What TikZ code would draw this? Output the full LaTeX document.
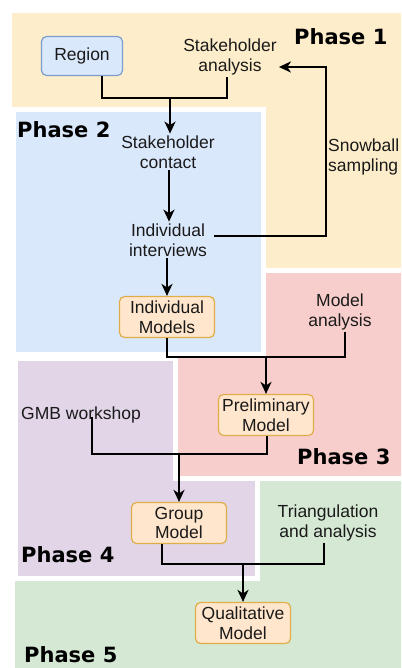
\documentclass[tikz,border=0pt]{standalone}
\usepackage{fontspec}
\setmainfont{Liberation Sans}
\newfontfamily\phasefont{DejaVu Sans}
\usetikzlibrary{arrows.meta,calc}

\definecolor{pyellow}{HTML}{FDEDCA}
\definecolor{pblue}{HTML}{DAE8FC}
\definecolor{pred}{HTML}{F8CECC}
\definecolor{ppurple}{HTML}{E1D5E7}
\definecolor{pgreen}{HTML}{D5E8D4}
\definecolor{boxfill}{HTML}{FFE6CC}
\definecolor{boxline}{HTML}{E0AE48}
\definecolor{regline}{HTML}{7C9CCB}
\definecolor{ink}{HTML}{1A1A1A}

\tikzset{
  phasearea/.style={fill=#1, draw=white, line width=5pt},
  txt/.style={font=\fontsize{17.5}{19.5}\selectfont, text=ink, align=center, inner sep=2pt},
  orbox/.style={txt, draw=boxline, fill=boxfill, line width=1.2pt, rounded corners=5pt,
    minimum width=95pt, minimum height=41pt},
  regbox/.style={txt, draw=regline, fill=pblue, line width=1.2pt, rounded corners=5pt,
    minimum width=81pt, minimum height=39pt},
  phaselabel/.style={font=\phasefont\bfseries\fontsize{21}{25}\selectfont, text=black, anchor=west, inner sep=0pt},
  link/.style={draw=black, line width=2pt},
  arr/.style={link, -{Stealth[length=12pt, width=11pt, inset=3.5pt]}},
}

\begin{document}
\begin{tikzpicture}[x=1pt, y=-1pt]
\useasboundingbox (0,0) rectangle (401,668);
\clip (0,0) rectangle (401,668);

% phase areas, back to front
\fill[pyellow] (12,13) rectangle (410,272);
\fill[pgreen] (15,480) rectangle (410,680);
\path[phasearea=ppurple] (15,358) rectangle (257,578);
\path[phasearea=pred] (175,270) rectangle (410,478);
\path[phasearea=pblue] (13,110) rectangle (263,354);

% phase titles
\node[phaselabel] (ph1) at (294,37) {Phase 1};
\node[phaselabel] (ph2) at (17,130) {Phase 2};
\node[phaselabel] (ph3) at (297,457) {Phase 3};
\node[phaselabel] (ph4) at (21,555) {Phase 4};
\node[phaselabel] (ph5) at (24,655) {Phase 5};

% steps
\node[regbox] (region) at (82,56) {Region};
\node[txt] (sha) at (230,57) {Stakeholder\\analysis};
\node[txt] (shc) at (168,152) {Stakeholder\\contact};
\node[txt] (ivw) at (168,240) {Individual\\interviews};
\node[txt, anchor=west, align=left, inner sep=0pt] (snow) at (328,157) {Snowball\\sampling};
\node[orbox] (im) at (167,317) {Individual\\Models};
\node[txt] (ma) at (340,312) {Model\\analysis};
\node[orbox] (pm) at (266,415) {Preliminary\\Model};
\node[txt] (gmb) at (81,415) {GMB workshop};
\node[orbox] (gm) at (179,523) {Group\\Model};
\node[txt] (tri) at (328,523) {Triangulation\\and analysis};
\node[orbox] (qm) at (243,623) {Qualitative\\Model};

% junction points
\coordinate (j1) at (170,98);
\coordinate (loop) at (326,67);
\coordinate (j2) at (266,357);
\coordinate (j3) at (179,454);
\coordinate (j4) at (243,564);

% connectors
\draw[link] ([xshift=20pt]region.south) |- (j1) -| ([xshift=-3pt]sha.south);
\draw[arr] (j1) -- (j1 |- shc.north);
\draw[arr] ([xshift=1pt]shc.south) -- ([xshift=1pt]ivw.north);
\draw[arr] ([shift={(5pt,4pt)}]ivw.east) -| (loop) -- (loop -| sha.east);
\draw[arr] ([xshift=-1pt]ivw.south) -- (im.north);
\draw[link] (im.south) |- (j2);
\draw[link] ([xshift=5pt]ma.south) |- (j2);
\draw[arr] (j2) -- (pm.north);
\draw[link] ([shift={(11pt,8pt)}]gmb.south) |- (j3);
\draw[link] ([xshift=1pt]pm.south) |- (j3);
\draw[arr] (j3) -- (gm.north);
\draw[link] ([xshift=-17pt]gm.south) |- (j4);
\draw[link] ([xshift=-4pt]tri.south) |- (j4);
\draw[arr] (j4) -- (qm.north);
\end{tikzpicture}
\end{document}
